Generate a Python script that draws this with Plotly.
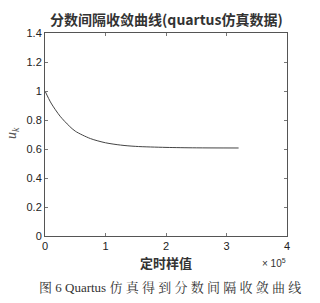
import plotly.graph_objects as go

# data
x_samples = [0, 0.1e5, 0.25e5, 0.4e5, 0.5e5, 0.75e5, 1.0e5, 1.25e5, 1.5e5, 2.0e5, 2.5e5, 3.2e5]
u_k = [1.0, 0.917, 0.826, 0.759, 0.723, 0.672, 0.643, 0.627, 0.618, 0.611, 0.608, 0.607]
x_ticks = [0, 1e5, 2e5, 3e5, 4e5]
x_tick_labels = ["0", "1", "2", "3", "4"]
y_ticks = [0, 0.2, 0.4, 0.6, 0.8, 1.0, 1.2, 1.4]
y_tick_labels = ["0", "0.2", "0.4", "0.6", "0.8", "1", "1.2", "1.4"]

title = "<b>分数间隔收敛曲线(quartus仿真数据)</b>"
xlabel = "<b>定时样值</b>"
caption = "图 6 Quartus 仿 真 得 到 分 数 间 隔 收 敛 曲 线"

tickfont = dict(family="Liberation Sans, Arial", size=11, color="#222")

fig = go.Figure()
fig.add_trace(go.Scatter(x=x_samples, y=u_k, mode="lines",
                         line=dict(color="#444", width=1, shape="spline", smoothing=0.8),
                         showlegend=False))

fig.update_layout(
    width=320, height=303,
    margin=dict(l=45, r=33, t=33, b=67),
    paper_bgcolor="white", plot_bgcolor="white",
    title=dict(text=title, x=0.52, xanchor="center", y=1 - 20 / 303, yanchor="middle",
               font=dict(family="Noto Sans CJK SC", size=14, color="#333")),
    xaxis=dict(range=[0, 4e5], tickvals=x_ticks, ticktext=x_tick_labels,
               showgrid=False, zeroline=False, showline=True, linecolor="#555",
               linewidth=1, mirror="ticks", ticks="inside", ticklen=3,
               tickcolor="#777", tickfont=tickfont),
    yaxis=dict(range=[0, 1.4], tickvals=y_ticks, ticktext=y_tick_labels,
               showgrid=False, zeroline=False, showline=True, linecolor="#555",
               linewidth=1, mirror="ticks", ticks="inside", ticklen=3,
               tickcolor="#777", tickfont=tickfont),
)

fig.add_annotation(text=xlabel, xref="paper", yref="paper", x=0.5, y=-(262 - 236) / 203,
                   xanchor="center", yanchor="middle", showarrow=False,
                   font=dict(family="Noto Sans CJK SC", size=13, color="#333"))
fig.add_annotation(text="× 10<sup>5</sup>", xref="paper", yref="paper", x=1.005, y=-(263 - 236) / 203,
                   xanchor="right", yanchor="middle", showarrow=False,
                   font=dict(family="Liberation Sans, Arial", size=10, color="#333"))
fig.add_annotation(text="<i>u<sub>k</sub></i>", xref="paper", yref="paper",
                   x=-33 / 242, y=(236 - 133) / 203, xanchor="center", yanchor="middle",
                   textangle=-90, showarrow=False,
                   font=dict(family="Liberation Serif, Times New Roman", size=14, color="#555"))
fig.add_annotation(text=caption, xref="paper", yref="paper", x=0.515, y=-(287 - 236) / 203,
                   xanchor="center", yanchor="middle", showarrow=False,
                   font=dict(family="Liberation Serif, Noto Serif CJK SC, Noto Sans CJK SC", size=13, color="#333"))

fig.write_html("out.html")
